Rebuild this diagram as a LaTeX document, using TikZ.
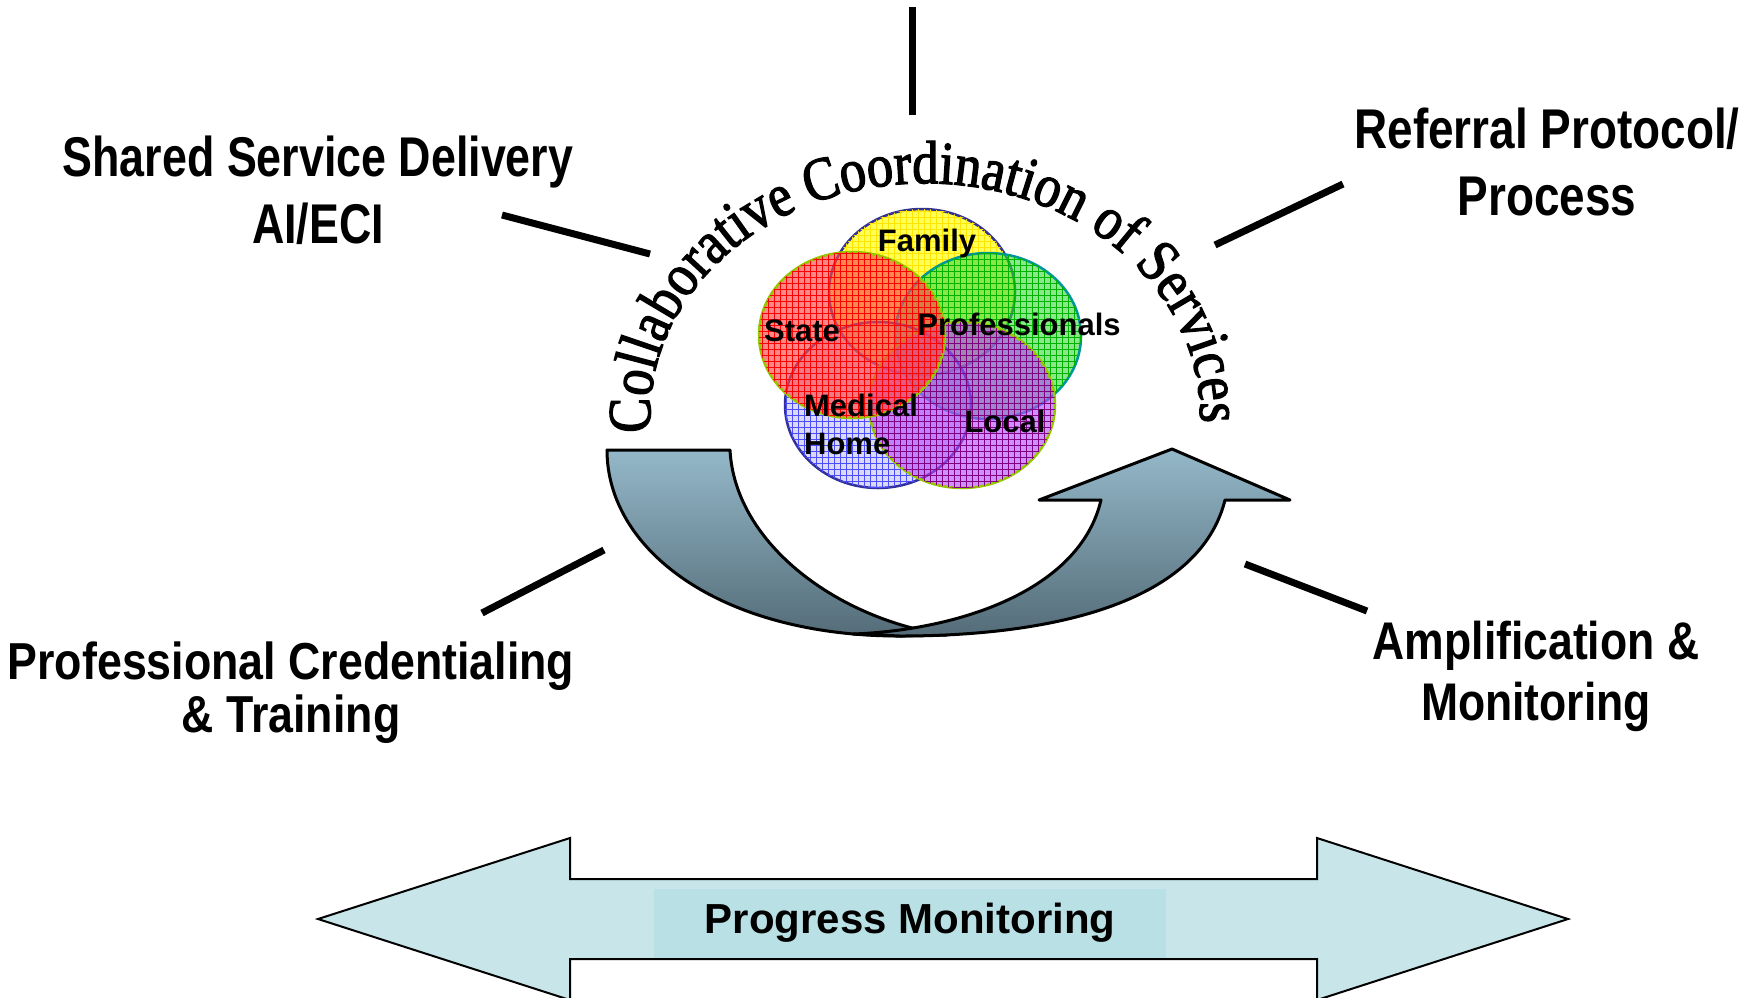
\documentclass[tikz,border=0pt]{standalone}
\usepackage{fontspec}
\setmainfont{Liberation Sans}
\newfontfamily\labelsans{Liberation Sans}
\newfontfamily\arcserif[FakeStretch=0.86,FakeBold=2]{Liberation Serif}
\usetikzlibrary{shapes.geometric, decorations.text, patterns}
\definecolor{VY}{RGB}{255,255,60}
\definecolor{VR}{RGB}{255,70,70}
\definecolor{VG}{RGB}{60,215,60}
\definecolor{VB}{RGB}{150,150,235}
\definecolor{VP}{RGB}{175,70,255}
\definecolor{EB}{RGB}{50,50,150}
\definecolor{EL}{RGB}{150,200,0}
\definecolor{ET}{RGB}{0,150,160}
\definecolor{AT}{RGB}{148,184,201}
\definecolor{AB}{RGB}{84,108,120}
\definecolor{PA}{RGB}{200,230,234}
\definecolor{PB}{RGB}{185,224,228}

\begin{document}
\begin{tikzpicture}[x=0.5pt, y=-0.5pt,
  venn/.style n args={4}{ellipse, draw=#2, line width=1.25pt, fill=#1,
              fill opacity=#3, minimum width=93pt, minimum height=83pt,
              inner sep=0pt, postaction={pattern=grid, pattern color=#4}},
  vtxt/.style={font=\bfseries\fontsize{15.5}{19}\selectfont, inner sep=0pt},
  lbl/.style n args={3}{font=\labelsans\bfseries\fontsize{#2}{#3}\selectfont\addfontfeature{FakeStretch=#1},
              align=center, inner sep=0pt},
  spoke/.style={line width=3.5pt},
  band/.style={draw=black, line width=1.5pt, line join=round,
              top color=AT, bottom color=AB},
  pmbox/.style={fill=PB, minimum width=256pt, minimum height=34.5pt,
              font=\bfseries\fontsize{21}{24}\selectfont}
]
\useasboundingbox (0,0) rectangle (1748,997);

% Outer labels
\node[lbl={0.80}{28}{33.5}] (shared)     at (318,190)  {Shared Service Delivery\\AI/ECI};
\node[lbl={0.82}{28}{33.5}] (referral)   at (1547,162) {Referral Protocol/\\Process};
\node[lbl={0.86}{26}{26.5}] (credential) at (291,693)  {Professional Credentialing\\\& Training};
\node[lbl={0.84}{26.5}{30.5}] (amplify)  at (1536,676) {Amplification \&\\Monitoring};

% Spokes
\coordinate (topA) at (912,7);    \coordinate (topB) at (912,115);
\coordinate (ulA)  at (502,215);  \coordinate (ulB)  at (650,254);
\coordinate (urA)  at (1343,184); \coordinate (urB)  at (1215,245);
\coordinate (llA)  at (482,613);  \coordinate (llB)  at (604,550);
\coordinate (lrA)  at (1367,611); \coordinate (lrB)  at (1245,564);
\draw[spoke] (topA)--(topB);
\draw[spoke] (ulA)--(ulB);
\draw[spoke] (urA)--(urB);
\draw[spoke] (llA)--(llB);
\draw[spoke] (lrA)--(lrB);

% Venn of partners
\node[venn={VY}{EB}{0.85}{yellow!80!orange}]  (family) at (922,292) {};
\node[venn={VG}{ET}{0.6}{green!70!black}]     (prof)   at (988,336) {};
\node[venn={VB}{EB}{0.35}{blue!70!white}]     (medical) at (878,405) {};
\node[venn={VP}{EL}{0.6}{violet}]             (local)  at (962,405) {};
\node[venn={VR}{EL}{0.65}{red}]               (state)  at (852,335) {};

\node[vtxt] (familyT) at (927,243) {Family};
\node[vtxt] (stateT)  at (802,331) {State};
\node[vtxt] (profT)   at (1019,324) {Professionals};
\node[vtxt, align=left] (medicalT) at (861,424) {Medical\\Home};
\node[vtxt] (localT)  at (1005,421) {Local};

% Arc title
\coordinate (arcL) at (651,433);
\path[decorate, decoration={text along path, text align=center,
  text={|\arcserif\fontsize{30.5}{30}\selectfont|Collaborative Coordination of Services}}]
  (arcL) arc[start angle=175.6, end angle=362, x radius=275, y radius=232];

% Turn-around arrow
\draw[band] (607,450) -- (730,450)
  .. controls (735,545) and (840,620) .. (947,635) -- (900,636)
  .. controls (720,636) and (607,550) .. (607,450) -- cycle;
\draw[band] (853,634) -- (900,636)
  .. controls (1060,636) and (1200,600) .. (1225,500)
  -- (1290,500) -- (1172,449) -- (1039,500) -- (1101,500)
  .. controls (1080,590) and (960,630) .. (853,634) -- cycle;

% Progress monitoring
\draw[fill=PA, line width=1pt] (318,919) -- (570,838) -- (570,879) -- (1317,879)
  -- (1317,838) -- (1568,919) -- (1317,1000) -- (1317,959) -- (570,959)
  -- (570,1000) -- cycle;
\node[pmbox] (progress) at (910,923) {Progress Monitoring};
\end{tikzpicture}
\end{document}
